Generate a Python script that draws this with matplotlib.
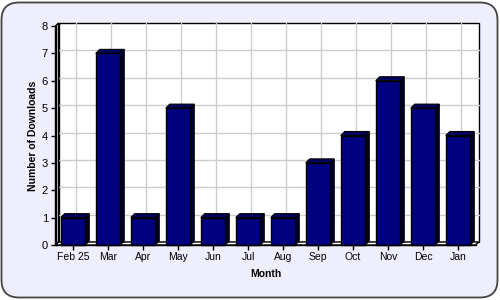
import matplotlib
matplotlib.use("Agg")
import matplotlib.pyplot as plt
from matplotlib.patches import FancyBboxPatch, Rectangle, Polygon

months = ["Feb 25", "Mar", "Apr", "May", "Jun", "Jul", "Aug", "Sep", "Oct", "Nov", "Dec", "Jan"]
downloads = [1, 7, 1, 5, 1, 1, 1, 3, 4, 6, 5, 4]
yticks = [0, 1, 2, 3, 4, 5, 6, 7, 8]

plt.rcParams['font.family'] = ['Liberation Sans', 'DejaVu Sans']

W, H = 500, 300
fig = plt.figure(figsize=(5, 3), dpi=100)
fig.patch.set_facecolor('white')

# rounded background panel
bg = FancyBboxPatch((1.5 / W, 2.5 / H), (W - 4) / W, (H - 5) / H,
                    boxstyle="round,pad=0,rounding_size=0.035",
                    transform=fig.transFigure, facecolor='#EEEEFC',
                    edgecolor='#444444', linewidth=1.3, mutation_aspect=W / H,
                    zorder=-10)
fig.patches.append(bg)

left, right, bottom, top = 55.5, 475.5, 245, 26
ax = fig.add_axes([left / W, (H - bottom) / H, (right - left) / W, (bottom - top) / H])
ax.set_zorder(1)
ax.set_xlim(-0.5, 11.5)
ax.set_ylim(0, 8)
ax.patch.set_visible(False)
for s in ax.spines.values():
    s.set_visible(False)

pxx = (right - left) / 12.0
pxy = (bottom - top) / 8.0
dx = 3 / pxx
dy = 3 / pxy

# back wall
ax.add_patch(Rectangle((-0.5 + dx, dy), 12, 8, facecolor='white', edgecolor='black',
                       linewidth=1.0, clip_on=False, zorder=0))
for v in yticks[1:-1]:
    ax.plot([-0.5 + dx, 11.5 + dx], [v + dy, v + dy], color='#CCCCCC', lw=1.0,
            clip_on=False, zorder=0.5)
for i in range(len(months)):
    ax.plot([i + dx, i + dx], [dy, 8 + dy], color='#CCCCCC', lw=1.0,
            clip_on=False, zorder=0.5)
# left wall
ax.add_patch(Polygon([(-0.5, 0), (-0.5 + dx, dy), (-0.5 + dx, 8 + dy), (-0.5, 8)],
                     closed=True, facecolor='white', edgecolor='black', lw=1.0,
                     clip_on=False, zorder=1))
# floor
ax.add_patch(Polygon([(-0.5, 0), (11.5, 0), (11.5 + dx, dy), (-0.5 + dx, dy)],
                     closed=True, facecolor='white', edgecolor='black', lw=1.0,
                     clip_on=False, zorder=1))

# bars
bw = 0.7
bdx = 4 / pxx
bdy = 4 / pxy
for i, v in enumerate(downloads):
    x0, x1 = i - bw / 2, i + bw / 2
    ax.add_patch(Polygon([(x1, 0), (x1 + bdx, bdy), (x1 + bdx, v + bdy), (x1, v)],
                         closed=True, facecolor='#000030', edgecolor='black', lw=0.8,
                         clip_on=False, zorder=3))
    ax.add_patch(Polygon([(x0, v), (x0 + bdx, v + bdy), (x1 + bdx, v + bdy), (x1, v)],
                         closed=True, facecolor='#000060', edgecolor='black', lw=0.8,
                         clip_on=False, zorder=3))
    ax.add_patch(Rectangle((x0, 0), bw, v, facecolor='#000080', edgecolor='black',
                           lw=1.0, clip_on=False, zorder=4))

# front axes lines
ax.plot([-0.5, -0.5], [0, 8], color='black', lw=1.0, clip_on=False, zorder=5)
ax.plot([-0.5, 11.5], [0, 0], color='black', lw=1.0, clip_on=False, zorder=5)

ax.set_xticks(range(len(months)))
ax.set_xticklabels(months, fontsize=7.5)
ax.set_yticks(yticks)
ax.set_yticklabels([str(t) for t in yticks], fontsize=8)
ax.tick_params(axis='both', length=3.6, width=1.0, color='black', pad=1.8)
ax.set_xlabel("Month", fontsize=7.5, fontweight='bold', labelpad=4.5)
ax.set_ylabel("Number of Downloads", fontsize=7.5, fontweight='bold', labelpad=2.5)

fig.savefig("out.png", dpi=100, facecolor=fig.get_facecolor())
